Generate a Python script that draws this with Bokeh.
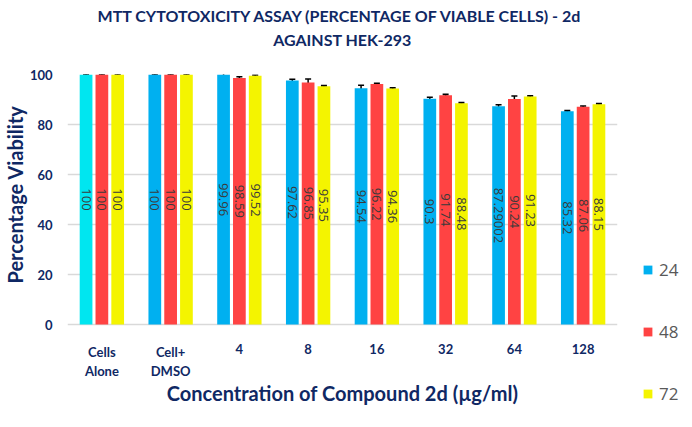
import math
from bokeh.plotting import figure
from bokeh.models import (ColumnDataSource, FactorRange, Whisker, Legend, LegendItem,
                          Title, FixedTicker, TeeHead, Range1d)
from bokeh.transform import dodge
from bokeh.core.properties import value
from bokeh.embed import file_html
from bokeh.resources import INLINE

# ---- data ----
categories = ["Cells\nAlone", "Cell+\nDMSO", "4", "8", "16", "32", "64", "128"]
series_names = ["24", "48", "72"]
v24 = [100, 100, 99.96, 97.62, 94.54, 90.3, 87.29002, 85.32]
v48 = [100, 100, 98.59, 96.85, 96.22, 91.74, 90.24, 87.06]
v72 = [100, 100, 99.52, 95.35, 94.36, 88.48, 91.23, 88.15]
e24 = [0.15, 0.15, 2.6, 0.5, 1.2, 0.6, 0.6, 0.3]
e48 = [0.15, 0.15, 0.5, 1.4, 0.3, 0.4, 1.2, 0.3]
e72 = [0.15, 0.15, 0.3, 0.3, 0.3, 0.3, 0.3, 0.3]
y_ticks = [0, 20, 40, 60, 80, 100]
x_title = "Concentration of Compound 2d (\u00b5g/ml)"
y_title = "Percentage Viability"
title_1 = "MTT CYTOTOXICITY  ASSAY (PERCENTAGE OF VIABLE CELLS) - 2d"
title_2 = "AGAINST HEK-293"

NAVY = "#0F2864"
BLUE = "#00B0F0"
CYAN = "#00E6F0"
RED = "#FF4343"
YELLOW = "#F4F400"
FONT = "Lato"


def fmt(v):
    return ("%.5f" % v).rstrip("0").rstrip(".")


p = figure(frame_width=550, frame_height=337,
           x_range=FactorRange(*categories, range_padding=0),
           y_range=Range1d(-34.8, 100), output_backend="svg", toolbar_location=None,
           x_axis_location=None,
           min_border_left=4, min_border_right=63, min_border_top=74, min_border_bottom=0)
p.outline_line_color = None

# titles: added "above" items stack outward from the frame, default title outermost
tstyle = dict(align="center", text_font=FONT, text_font_size="16px",
              text_font_style="bold", text_color=NAVY)
p.title.text = title_1
for k, v in tstyle.items():
    setattr(p.title, k, v)
p.title.standoff = 0
p.add_layout(Title(text=" ", standoff=2, **tstyle), "above")
p.add_layout(Title(text=title_2, standoff=6, **tstyle), "above")

offsets = [-0.23, 0.0, 0.23]
series_vals = [v24, v48, v72]
series_errs = [e24, e48, e72]
colors = [[CYAN] + [BLUE] * 7, [RED] * 8, [YELLOW] * 8]

renderers = []
for name, vals, errs, cols, off in zip(series_names, series_vals, series_errs, colors, offsets):
    src = ColumnDataSource(dict(
        cat=categories, val=vals, half=[v / 2 for v in vals],
        lo=[v - e for v, e in zip(vals, errs)], hi=[v + e for v, e in zip(vals, errs)],
        lab=[fmt(v) for v in vals], col=cols))
    r = p.vbar(x=dodge("cat", off, range=p.x_range), top="val", width=0.185, bottom=0,
               source=src, fill_color="col", line_color=None)
    renderers.append(r)
    p.text(x=dodge("cat", off, range=p.x_range), y="half", text="lab", source=src,
           angle=-math.pi / 2, text_align="center", text_baseline="middle",
           text_font=value("Open Sans"), text_font_size="13px", text_color="#3A3A3A")
    w = Whisker(base=dodge("cat", off, range=p.x_range), lower="lo", upper="hi", source=src,
                line_color="black", line_width=1.5,
                upper_head=TeeHead(size=6, line_color="black", line_width=1.5),
                lower_head=TeeHead(size=6, line_color="black", line_width=1.5))
    p.add_layout(w)

# category labels under the bars
p.text(x=categories, y=[-7.6] * len(categories), text=categories,
       text_align="center", text_baseline="top", text_line_height=1.2,
       text_font=value(FONT), text_font_style="bold", text_font_size="13px", text_color=NAVY)
# x axis title, centred under the category band
p.text(x=dodge("c", -0.5, range=p.x_range), y="y", text="t",
       source=ColumnDataSource(dict(c=[categories[4]], y=[-27.2], t=[x_title])),
       text_align="center", text_baseline="middle",
       text_font=value(FONT), text_font_style="bold", text_font_size="20px", text_color=NAVY)

# y axis
p.yaxis.ticker = FixedTicker(ticks=y_ticks)
p.ygrid.ticker = FixedTicker(ticks=y_ticks)
p.ygrid.grid_line_color = "#D9D9D9"
p.ygrid.grid_line_width = 1.5
p.xgrid.grid_line_color = None
ax = p.yaxis
ax.axis_line_color = None
ax.major_tick_line_color = None
ax.minor_tick_line_color = None
ax.major_tick_in = 0
ax.major_tick_out = 0
ax.minor_tick_out = 0
ax.major_label_text_font = FONT
ax.major_label_text_font_style = "bold"
ax.major_label_text_color = NAVY
ax.major_label_text_font_size = "13px"
ax.major_label_standoff = 15
p.add_layout(Title(text=y_title, align="left", offset=128, standoff=0, text_font=FONT,
                   text_font_size="20px", text_font_style="bold", text_color=NAVY), "left")

legend = Legend(items=[LegendItem(label=n, renderers=[r], index=1)
                       for n, r in zip(series_names, renderers)],
                location=(25, 6), orientation="vertical",
                glyph_width=11, glyph_height=11, label_height=20, spacing=39,
                padding=0, margin=0, label_standoff=6,
                label_text_font="Open Sans", label_text_font_size="17px",
                label_text_color="#595959", border_line_color=None, background_fill_alpha=0)
p.add_layout(legend, "right")

open("out.html", "w").write(file_html(p, INLINE))
